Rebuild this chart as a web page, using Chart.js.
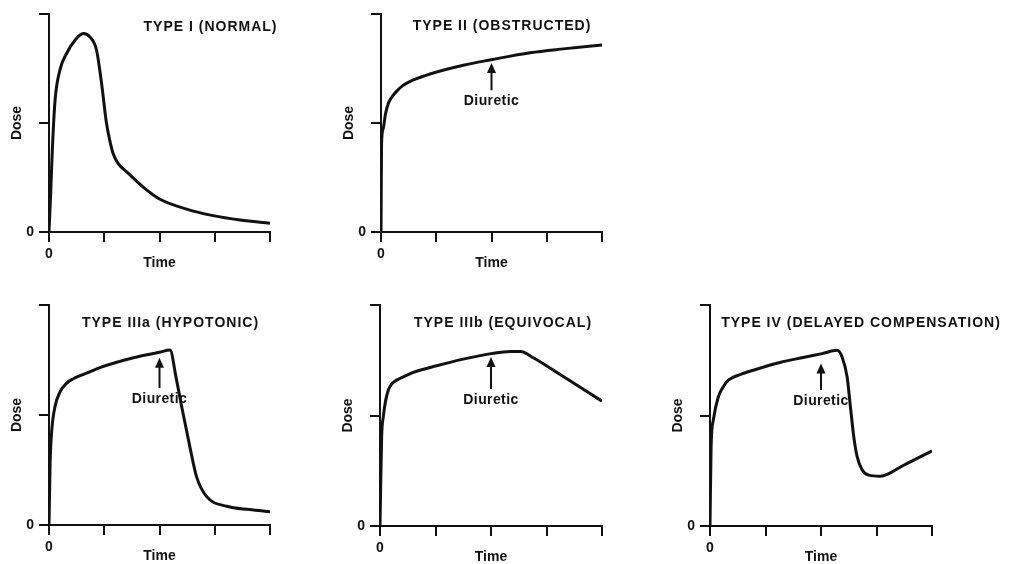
<!DOCTYPE html>
<html>
<head>
<meta charset="utf-8">
<script src="https://cdn.jsdelivr.net/npm/chart.js@4.4.1/dist/chart.umd.min.js"></script>
<style>
  body { margin: 0; background: #fff; }
  #wrap { position: relative; width: 1011px; height: 564px; overflow: hidden; background: #fff; }
  #wrap canvas { position: absolute; }
</style>
</head>
<body>
<div id="wrap">
  <canvas id="normal"></canvas>
  <canvas id="obstructed"></canvas>
  <canvas id="hypotonic"></canvas>
  <canvas id="equivocal"></canvas>
  <canvas id="delayed"></canvas>
</div>
<script>
// Renogram curves (time 0-4, dose 0-2 in axis units)
const normalTime = [0, 0.03, 0.06, 0.11, 0.2, 0.32, 0.47, 0.62, 0.74, 0.86, 0.95, 1.04, 1.10, 1.16, 1.25, 1.41, 1.71, 2.01, 2.49, 2.97, 3.46, 4.0];
const normalDose = [0, 0.35, 0.75, 1.21, 1.49, 1.64, 1.76, 1.82, 1.79, 1.67, 1.37, 1.0, 0.84, 0.72, 0.63, 0.55, 0.41, 0.30, 0.21, 0.15, 0.11, 0.08];

const obstructedTime = [0, 0.01, 0.04, 0.08, 0.133, 0.20, 0.28, 0.40, 0.585, 0.887, 1.49, 1.99, 2.70, 3.30, 4.0];
const obstructedDose = [0, 0.81, 0.95, 1.08, 1.18, 1.24, 1.29, 1.345, 1.395, 1.45, 1.53, 1.58, 1.645, 1.68, 1.715];

const hypotonicTime = [0, 0.02, 0.05, 0.11, 0.2, 0.32, 0.44, 0.68, 0.92, 1.53, 2.0, 2.19, 2.30, 2.40, 2.55, 2.67, 2.85, 3.22, 3.63, 4.0];
const hypotonicDose = [0, 0.56, 0.86, 1.08, 1.21, 1.29, 1.33, 1.38, 1.43, 1.52, 1.57, 1.59, 1.34, 1.08, 0.71, 0.44, 0.26, 0.17, 0.14, 0.12];

const equivocalTime = [0, 0.01, 0.03, 0.06, 0.1, 0.15, 0.21, 0.30, 0.42, 0.60, 1.02, 1.5, 2.0, 2.35, 2.53, 2.77, 3.31, 4.0];
const equivocalDose = [0, 0.3, 0.81, 0.99, 1.13, 1.23, 1.285, 1.32, 1.35, 1.39, 1.45, 1.51, 1.56, 1.58, 1.58, 1.52, 1.35, 1.13];

const delayedTime = [0, 0.02, 0.06, 0.15, 0.24, 0.33, 0.54, 0.78, 1.26, 1.68, 2.02, 2.29, 2.38, 2.47, 2.53, 2.59, 2.65, 2.74, 2.86, 3.07, 3.49, 4.0];
const delayedDose = [0, 0.72, 0.96, 1.17, 1.26, 1.32, 1.37, 1.41, 1.48, 1.525, 1.56, 1.59, 1.53, 1.35, 1.08, 0.81, 0.63, 0.51, 0.46, 0.45, 0.55, 0.68];

const timeTicks = [0, 1, 2, 3, 4];
const doseTicks = [0, 1, 2];
const diureticTime = 2;

const INK = '#111';
const FONT = '"Liberation Sans", Arial, sans-serif';
Chart.defaults.font.family = FONT;
Chart.defaults.font.weight = 'bold';
Chart.defaults.color = INK;

// panel title, diuretic arrow and its label
const panelText = {
    id: 'panelText',
    afterDatasetsDraw(chart, args, opts) {
        const ctx = chart.ctx;
        const area = chart.chartArea;
        ctx.save();
        ctx.fillStyle = INK;
        ctx.strokeStyle = INK;
        ctx.font = 'bold 14px ' + FONT;
        ctx.textAlign = 'center';
        ctx.textBaseline = 'middle';
        ctx.letterSpacing = '1px';
        ctx.fillText(opts.title, area.left + opts.titleX, area.top + opts.titleY);

        if (opts.arrow) {
            const x = chart.scales.x.getPixelForValue(opts.arrow.at);
            const yTip = chart.scales.y.getPixelForValue(opts.arrow.tip);
            const yTail = chart.scales.y.getPixelForValue(opts.arrow.tail);
            ctx.lineWidth = 2;
            ctx.beginPath();
            ctx.moveTo(x, yTail);
            ctx.lineTo(x, yTip + 8);
            ctx.stroke();
            ctx.beginPath();
            ctx.moveTo(x, yTip);
            ctx.lineTo(x - 4.5, yTip + 10);
            ctx.lineTo(x + 4.5, yTip + 10);
            ctx.closePath();
            ctx.fill();
            ctx.letterSpacing = '0.4px';
            ctx.fillText('Diuretic', x, yTail + 11);
        }
        ctx.restore();
    }
};

function makePanel(id, box, area, time, dose, text) {
    const canvas = document.getElementById(id);
    canvas.style.left = box[0] + 'px';
    canvas.style.top = box[1] + 'px';
    canvas.width = box[2];
    canvas.height = box[3];

    const yWidth = 49;
    const xHeight = 38;
    const axisGrid = { drawOnChartArea: false, drawTicks: true, tickLength: 10, color: INK, lineWidth: 2 };
    const axisBorder = { display: true, color: INK, width: 2 };

    return new Chart(canvas, {
        type: 'line',
        data: {
            datasets: [{
                data: time.map((t, i) => ({ x: t, y: dose[i] })),
                borderColor: INK,
                borderWidth: 3,
                pointRadius: 0,
                fill: false,
                cubicInterpolationMode: 'monotone'
            }]
        },
        options: {
            responsive: false,
            animation: false,
            devicePixelRatio: 1,
            layout: {
                padding: {
                    left: area[0] - box[0] - yWidth,
                    top: area[1] - box[1],
                    right: box[0] + box[2] - area[2],
                    bottom: box[1] + box[3] - area[3] - xHeight
                }
            },
            scales: {
                x: {
                    type: 'linear',
                    min: timeTicks[0],
                    max: timeTicks[timeTicks.length - 1],
                    afterFit: s => { s.height = xHeight; },
                    afterBuildTicks: s => { s.ticks = timeTicks.map(v => ({ value: v })); },
                    ticks: {
                        autoSkip: false, maxRotation: 0, padding: 4,
                        font: { size: 14 },
                        callback: v => v === 0 ? '0' : ''
                    },
                    grid: axisGrid,
                    border: axisBorder,
                    title: { display: true, text: 'Time', font: { size: 14, lineHeight: 1 }, padding: { top: 0, bottom: 0 } }
                },
                y: {
                    min: doseTicks[0],
                    max: doseTicks[doseTicks.length - 1],
                    afterFit: s => { s.width = yWidth; },
                    afterBuildTicks: s => { s.ticks = doseTicks.map(v => ({ value: v })); },
                    ticks: {
                        autoSkip: false, padding: 5,
                        font: { size: 14 },
                        callback: v => v === 0 ? '0' : ''
                    },
                    grid: axisGrid,
                    border: axisBorder,
                    title: { display: true, text: 'Dose', font: { size: 14, lineHeight: 1 }, padding: { top: 10, bottom: 0 } }
                }
            },
            plugins: {
                legend: { display: false },
                tooltip: { enabled: false },
                panelText: text
            }
        },
        plugins: [panelText]
    });
}

makePanel('normal', [0, 0, 330, 282], [49, 14, 270, 232], normalTime, normalDose,
    { title: 'TYPE I (NORMAL)', titleX: 161.5, titleY: 13 });
makePanel('obstructed', [330, 0, 330, 282], [381, 14, 602, 232], obstructedTime, obstructedDose,
    { title: 'TYPE II (OBSTRUCTED)', titleX: 121, titleY: 12, arrow: { at: diureticTime, tail: 1.30, tip: 1.55 } });
makePanel('hypotonic', [0, 282, 330, 282], [49, 305, 270, 525], hypotonicTime, hypotonicDose,
    { title: 'TYPE IIIa (HYPOTONIC)', titleX: 121.5, titleY: 18, arrow: { at: diureticTime, tail: 1.245, tip: 1.52 } });
makePanel('equivocal', [330, 282, 330, 282], [380, 305, 602, 526], equivocalTime, equivocalDose,
    { title: 'TYPE IIIb (EQUIVOCAL)', titleX: 123, titleY: 18, arrow: { at: diureticTime, tail: 1.24, tip: 1.53 } });
makePanel('delayed', [660, 282, 351, 282], [710, 305, 932, 526], delayedTime, delayedDose,
    { title: 'TYPE IV (DELAYED COMPENSATION)', titleX: 151, titleY: 18, arrow: { at: diureticTime, tail: 1.23, tip: 1.47 } });
</script>
</body>
</html>
